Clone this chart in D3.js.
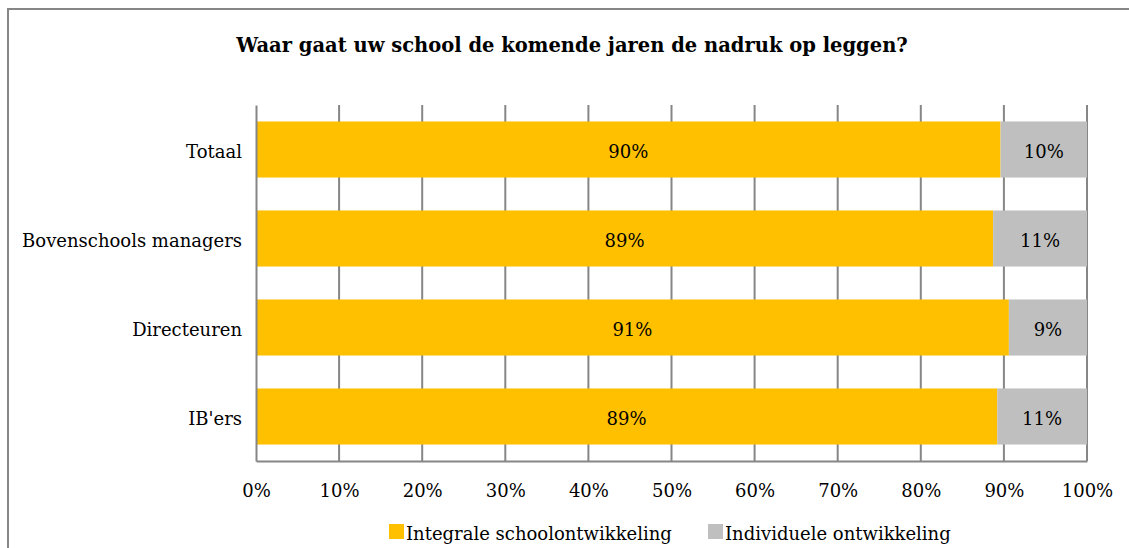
<!DOCTYPE html>
<meta charset="utf-8">
<style>
body { margin: 0; background: #fff; }
svg { font-family: "DejaVu Serif", "Liberation Serif", serif; }
.grid line { stroke: #868686; stroke-width: 2px; }
.axis path, .axis line { stroke: #868686; stroke-width: 2px; }
.tick text { font-size: 18px; fill: #000; }
.vlabel { font-size: 18px; fill: #000; text-anchor: middle; }
</style>
<svg width="1129" height="548"></svg>
<script src="https://cdn.jsdelivr.net/npm/d3@7"></script>
<script>

var categories = ["Totaal", "Bovenschools managers", "Directeuren", "IB'ers"],
    seriesNames = ["Integrale schoolontwikkeling", "Individuele ontwikkeling"],
    integrale = [89.6, 88.7, 90.6, 89.2],
    individuele = [10.4, 11.3, 9.4, 10.8],
    tickValues = [0, 10, 20, 30, 40, 50, 60, 70, 80, 90, 100],
    colors = ["#FFC000", "#BFBFBF"];

var svg = d3.select("svg"),
    margin = {top: 105, right: 42, bottom: 87, left: 256},
    width = svg.attr("width") - margin.left - margin.right,
    height = svg.attr("height") - margin.top - margin.bottom;

// chart border
svg.append("rect")
    .attr("x", 8).attr("y", 9)
    .attr("width", 1200).attr("height", 600)
    .attr("fill", "none").attr("stroke", "#868686").attr("stroke-width", 2);

svg.append("text")
    .attr("x", 572).attr("y", 52)
    .attr("text-anchor", "middle")
    .style("font-size", "19.5px").style("font-weight", "bold")
    .text("Waar gaat uw school de komende jaren de nadruk op leggen?");

var g = svg.append("g").attr("transform", "translate(" + margin.left + "," + margin.top + ")");

var x = d3.scaleLinear().domain([0, 100]).range([0, width]);
var y = d3.scaleBand().domain(categories).range([0, height]).paddingInner(0.37).paddingOuter(0.185);

g.append("g")
    .attr("class", "grid")
  .selectAll("line")
  .data(tickValues.slice(1))
  .enter().append("line")
    .attr("x1", function(d) { return x(d); })
    .attr("x2", function(d) { return x(d); })
    .attr("y1", 0).attr("y2", height);

var rows = categories.map(function(c, i) { return {name: c, a: integrale[i], b: individuele[i]}; });

var bar = g.selectAll(".row").data(rows).enter().append("g").attr("class", "row");

bar.append("rect")
    .attr("x", x(0))
    .attr("y", function(d) { return y(d.name); })
    .attr("width", function(d) { return x(d.a) - x(0); })
    .attr("height", y.bandwidth())
    .attr("fill", colors[0]);

bar.append("rect")
    .attr("x", function(d) { return x(d.a); })
    .attr("y", function(d) { return y(d.name); })
    .attr("width", function(d) { return x(d.a + d.b) - x(d.a); })
    .attr("height", y.bandwidth())
    .attr("fill", colors[1]);

bar.append("text")
    .attr("class", "vlabel")
    .attr("x", function(d) { return x(d.a / 2); })
    .attr("y", function(d) { return y(d.name) + y.bandwidth() / 2; })
    .attr("dy", "0.45em")
    .text(function(d) { return Math.round(d.a) + "%"; });

bar.append("text")
    .attr("class", "vlabel")
    .attr("x", function(d) { return x(d.a + d.b / 2); })
    .attr("y", function(d) { return y(d.name) + y.bandwidth() / 2; })
    .attr("dy", "0.45em")
    .text(function(d) { return Math.round(d.b) + "%"; });

g.append("g")
    .attr("class", "axis axis--x")
    .attr("transform", "translate(0," + height + ")")
    .call(d3.axisBottom(x).tickValues(tickValues).tickSize(0).tickPadding(23).tickFormat(function(d) { return d + "%"; }))
    .attr("font-family", null).attr("font-size", null);

g.append("g")
    .attr("class", "axis axis--y")
    .call(d3.axisLeft(y).tickSize(0).tickPadding(14))
    .attr("font-family", null).attr("font-size", null)
  .selectAll("text")
    .attr("dy", "0.45em");

// legend
var legend = svg.append("g").attr("transform", "translate(389,524)")
  .selectAll("g").data(seriesNames).enter().append("g")
    .attr("transform", function(d, i) { return "translate(" + (i * 319) + ",0)"; });

legend.append("rect")
    .attr("width", 15).attr("height", 15)
    .attr("fill", function(d, i) { return colors[i]; });

legend.append("text")
    .attr("x", 17).attr("y", 16)
    .style("font-size", "18px")
    .text(function(d) { return d; });

</script>
